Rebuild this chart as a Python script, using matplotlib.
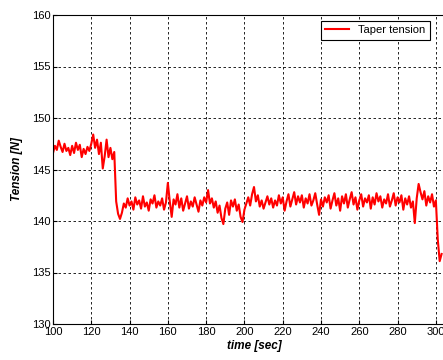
"""
    Taper tension over time
"""
import numpy as np
import matplotlib
matplotlib.use("Agg")
import matplotlib.pyplot as plt

T_START = 100
T_STEP = 1

# tension [N], one sample per second from t = 100 s
tension_before = [
    146.6, 147.3, 146.9, 147.8, 147.2, 146.7, 147.5, 146.8, 147.1, 146.4,
    147.3, 146.6, 147.6, 146.9, 147.4, 146.2, 147.0, 146.5, 147.2, 146.8,
    147.5, 148.4, 147.1, 147.9, 146.5, 147.6, 145.1, 146.3, 147.9, 146.2,
    147.1, 146.0, 146.7,
]
tension_steady = [
    141.9, 140.7, 140.2, 140.8, 141.7, 141.3, 142.2, 141.5, 141.9, 141.1,
    142.3, 141.6, 142.0, 141.2, 142.4, 141.4, 141.8, 141.0, 142.1, 141.7,
    142.5, 141.3, 141.9, 141.5, 142.2, 141.1, 141.8, 143.7, 141.9, 140.4,
    142.1, 141.6, 142.6, 141.3, 142.2, 141.0, 141.7, 142.4, 141.2, 141.9,
    141.4, 142.3, 141.6, 140.9, 142.0, 141.5, 142.3, 141.8, 143.0, 141.7,
    142.2, 141.3, 141.9, 140.8, 141.5, 140.3, 139.7, 141.2, 141.8, 140.6,
    142.0, 141.4, 142.1, 141.0, 141.6, 140.4, 139.9, 141.1, 141.7, 142.3,
    141.5, 142.6, 143.3, 141.9, 142.5, 141.4, 142.0, 141.2, 141.8, 142.4,
    141.6, 142.2, 141.3, 142.0, 141.5, 142.5, 141.7, 142.3, 141.0, 141.9,
    142.6, 141.4, 142.1, 142.8, 141.6, 142.4, 141.8, 142.5, 141.3, 142.2,
    141.7, 142.6, 141.5, 142.0, 142.7, 141.6, 140.6, 142.1, 141.4, 142.3,
    141.8, 142.5, 141.2, 142.0, 142.7, 141.5, 142.2, 141.0, 142.4, 141.7,
    142.6, 141.3, 142.1, 142.8, 141.6, 142.3, 141.1, 142.0, 142.6, 141.4,
    142.2, 141.8, 142.5, 141.2, 142.3, 141.6, 142.7, 141.9, 142.4, 141.3,
    142.1, 141.7, 142.6, 141.4, 142.0, 142.7, 141.5, 142.3, 141.8, 142.5,
    141.1, 142.2, 141.6, 142.4, 141.3, 141.9, 139.8, 142.2, 143.6, 142.8,
    142.1, 142.9, 141.5, 142.4, 141.8, 142.6, 141.4, 142.0,
]
tension_end = [138.2, 136.1, 136.8]

X_TICKS = list(range(100, 301, 20))
Y_TICKS = list(range(130, 161, 5))

tension = np.array(tension_before + tension_steady + tension_end)
time = T_START + T_STEP * np.arange(len(tension))

plt.rcParams['font.family'] = ['Liberation Sans', 'DejaVu Sans']

fig = plt.figure(figsize=(4.43, 3.6), dpi=100)
ax = fig.add_axes([53 / 443, 36 / 360, 402 / 443, 309 / 360])

ax.plot(time, tension, color='#ff0000', linewidth=1.5, label='Taper tension')

ax.set_xlim(100, 310)
ax.set_ylim(130, 160)
ax.set_xticks(X_TICKS)
ax.set_yticks(Y_TICKS)
ax.tick_params(direction='in', length=3, labelsize=8, pad=2)
ax.grid(True, color='black', linestyle=(0, (3, 3)), linewidth=0.6)
for spine in ax.spines.values():
    spine.set_linewidth(0.8)

ax.set_xlabel('time [sec]', fontsize=8.5, fontweight='bold', style='italic', labelpad=2)
ax.set_ylabel('Tension [N]', fontsize=8.5, fontweight='bold', style='italic', labelpad=6)

leg = ax.legend(loc='upper right', bbox_to_anchor=(0.938, 0.981), fontsize=8,
                fancybox=False, framealpha=1, edgecolor='black',
                handlelength=2.2, borderpad=0.4, borderaxespad=0)
leg.get_frame().set_linewidth(0.8)

fig.savefig('out.png', dpi=100)
